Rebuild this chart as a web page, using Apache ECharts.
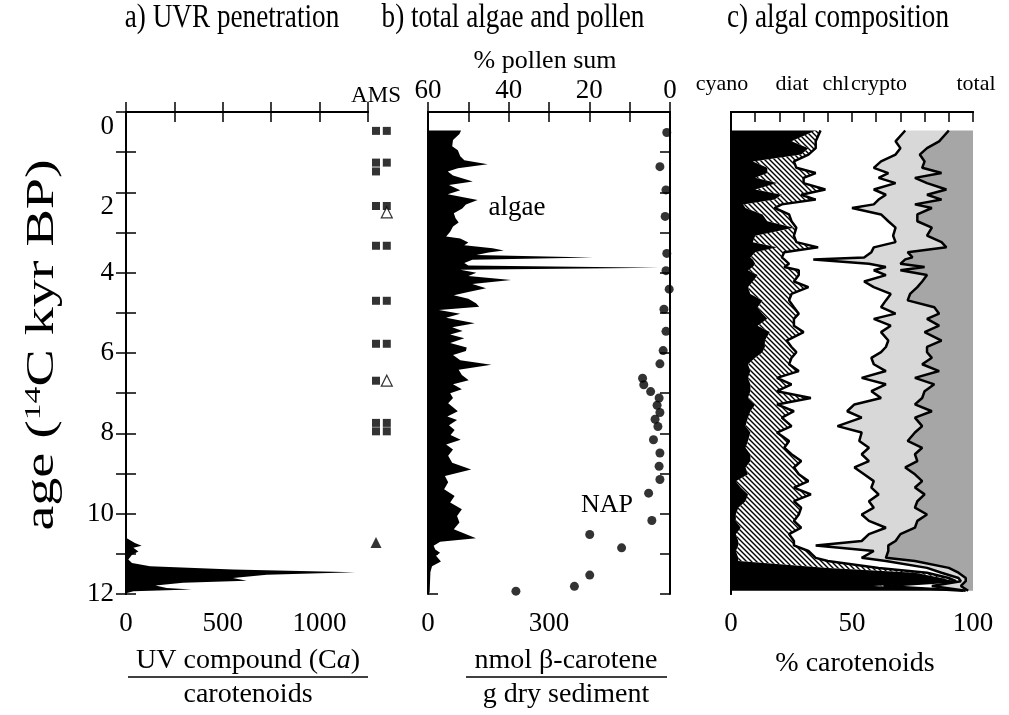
<!DOCTYPE html>
<html>
<head>
<meta charset="utf-8">
<style>
  html, body { margin: 0; padding: 0; background: #fff; }
  #chart { width: 1009px; height: 715px; }
</style>
<script src="https://cdn.jsdelivr.net/npm/echarts/dist/echarts.min.js"></script>
</head>
<body>
<div id="chart"></div>
<script>
// a) UV compound, per kyr BP
var uvAge = [0.4, 10.6, 10.73, 10.8, 10.85, 10.94, 11.02, 11.14, 11.23, 11.31, 11.39, 11.46, 11.52, 11.6, 11.67, 11.72, 11.79, 11.85, 11.89, 11.93, 11.98];
var uvValue = [0, 0, 46, 81, 38, 64, 31, 12, 31, 124, 553, 1183, 727, 553, 623, 295, 152, 210, 339, 38, 0];

// AMS dates (col 0 = left, 1 = right)
var amsAge = [0.47, 0.47, 1.26, 1.26, 1.48, 2.34, 2.34, 3.33, 3.33, 4.70, 4.70, 5.77, 5.77, 6.69, 7.74, 7.74, 7.95, 7.95, 2.5, 6.69, 10.72];
var amsCol = [0, 1, 0, 1, 0, 0, 1, 0, 1, 0, 1, 0, 1, 0, 0, 1, 0, 1, 1, 1, 0];
var amsKind = ["sq", "sq", "sq", "sq", "sq", "sq", "sq", "sq", "sq", "sq", "sq", "sq", "sq", "sq", "sq", "sq", "sq", "sq", "open", "open", "tri"];

// b) total algae (nmol beta-carotene / g dry sediment)
var algaeAge = [0.46, 0.55, 0.7, 0.85, 0.95, 1.1, 1.2, 1.3, 1.4, 1.48, 1.58, 1.73, 1.82, 1.95, 2.05, 2.19, 2.3, 2.4, 2.52, 2.64, 2.75, 2.85, 2.98, 3.1, 3.15, 3.25, 3.32, 3.39, 3.45, 3.5, 3.56, 3.62, 3.68, 3.76, 3.82, 3.88, 3.93, 4.0, 4.08, 4.18, 4.28, 4.39, 4.48, 4.56, 4.65, 4.76, 4.85, 4.93, 5.02, 5.12, 5.26, 5.36, 5.45, 5.54, 5.63, 5.75, 5.86, 5.95, 6.05, 6.18, 6.29, 6.42, 6.55, 6.68, 6.78, 6.9, 7.0, 7.12, 7.25, 7.45, 7.58, 7.67, 7.8, 7.92, 8.04, 8.16, 8.28, 8.4, 8.56, 8.73, 8.9, 9.06, 9.22, 9.39, 9.56, 9.72, 9.89, 10.06, 10.22, 10.39, 10.61, 10.7, 10.8, 10.89, 10.97, 11.05, 11.19, 11.31, 11.45, 11.7, 11.97];
var algaeValue = [82, 78, 62, 60, 74, 80, 90, 148, 74, 49, 62, 111, 52, 80, 49, 123, 94, 85, 64, 68, 76, 62, 55, 45, 80, 100, 90, 160, 188, 150, 120, 409, 110, 90, 100, 573, 80, 120, 100, 206, 110, 144, 100, 64, 100, 119, 127, 27, 80, 45, 116, 60, 86, 55, 90, 55, 96, 94, 62, 80, 157, 76, 84, 101, 62, 84, 55, 62, 50, 74, 48, 72, 52, 66, 56, 81, 45, 62, 50, 60, 107, 42, 50, 40, 66, 55, 84, 72, 78, 64, 119, 30, 14, 18, 30, 20, 32, 10, 6, 5, 4];

// b) non-arboreal pollen, % pollen sum
var napAge = [0.51, 1.36, 1.94, 2.6, 3.52, 3.95, 4.41, 4.91, 5.46, 5.94, 6.27, 6.63, 6.79, 6.96, 7.12, 7.3, 7.48, 7.65, 7.83, 8.16, 8.49, 8.82, 9.15, 9.49, 10.17, 10.52, 10.85, 11.53, 11.81, 11.93];
var napPct = [0.8, 2.5, 1.0, 1.2, 0.8, 1.0, 0.2, 1.5, 1.0, 1.7, 2.5, 6.8, 6.5, 4.8, 2.7, 3.2, 2.5, 3.7, 3.0, 4.1, 2.5, 2.7, 2.5, 5.3, 4.5, 19.9, 12.0, 19.9, 23.7, 38.2];

// c) algal composition, % carotenoids (remainder up to 100 is the last band)
var compAge = [0.46, 0.73, 0.9, 1.06, 1.23, 1.39, 1.52, 1.64, 1.77, 1.93, 2.06, 2.18, 2.3, 2.39, 2.55, 2.72, 2.88, 3.08, 3.24, 3.37, 3.49, 3.62, 3.67, 3.78, 3.86, 3.94, 4.06, 4.22, 4.36, 4.53, 4.69, 4.86, 5.02, 5.15, 5.32, 5.48, 5.69, 5.85, 5.98, 6.12, 6.28, 6.45, 6.62, 6.78, 6.95, 7.12, 7.28, 7.45, 7.61, 7.82, 7.98, 8.19, 8.36, 8.52, 8.69, 8.85, 9.02, 9.19, 9.35, 9.52, 9.69, 9.85, 10.02, 10.18, 10.35, 10.51, 10.68, 10.79, 10.93, 11.1, 11.18, 11.35, 11.47, 11.6, 11.68, 11.8, 11.92];
var cyanoPct = [35, 25, 32, 29, 9, 15, 15, 10, 19, 10, 21, 18, 5, 6, 13, 15, 26, 10, 9, 19, 10, 8, 9, 10, 9, 7, 11, 9, 7, 8, 13, 11, 13, 15, 11, 16, 14, 14, 13, 10, 7, 8, 7, 8, 8, 7, 10, 8, 7, 6, 8, 7, 6, 8, 8, 6, 7, 2, 4, 7, 6, 3, 2, 2, 4, 2, 3, 3, 2, 3, 3, 40, 76, 87, 92, 59, 95];
var diatPct = [2, 10, 3, 3, 17, 12, 20, 20, 11, 29, 8, 17, 16, 12, 11, 10, 1, 16, 18, 17, 12, 13, 13, 14, 13, 21, 17, 17, 25, 17, 11, 15, 15, 11, 15, 14, 9, 11, 14, 15, 17, 20, 12, 17, 11, 26, 9, 18, 14, 19, 11, 17, 16, 17, 21, 20, 21, 30, 22, 26, 20, 26, 26, 24, 25, 22, 23, 23, 30, 32, 37, 21, 5, 3, 1, 4, 1];
var chlPct = [35, 33, 35, 36, 36, 32, 30, 31, 38, 20, 35, 26, 38, 32, 38, 40, 41, 41, 41, 23, 36, 34, 12, 33, 42, 31, 36, 29, 27, 41, 40, 36, 40, 33, 40, 32, 42, 39, 35, 33, 35, 36, 35, 39, 39, 29, 32, 22, 33, 19, 35, 29, 35, 29, 28, 25, 27, 27, 32, 28, 31, 30, 26, 31, 35, 33, 28, 9, 27, 19, 24, 20, 6, 4, 2, 20, 1];
var cryptoPct = [18, 18, 11, 10, 18, 20, 22, 15, 13, 30, 17, 26, 17, 33, 15, 12, 15, 14, 19, 30, 15, 20, 38, 13, 16, 11, 17, 24, 18, 8, 9, 22, 18, 22, 20, 18, 22, 17, 19, 25, 20, 22, 22, 20, 22, 17, 25, 35, 22, 35, 22, 20, 22, 22, 20, 21, 21, 20, 18, 19, 20, 17, 27, 20, 12, 13, 14, 30, 6, 10, 12, 9, 7, 3, 2, 12, 1];

var FONT = "'Liberation Serif', 'Times New Roman', serif";

function hatchImage() {
  var c = document.createElement("canvas");
  c.width = 5;
  c.height = 5;
  var g = c.getContext("2d");
  g.fillStyle = "#fff";
  g.fillRect(0, 0, 5, 5);
  g.strokeStyle = "#000";
  g.lineWidth = 1.4;
  g.beginPath();
  g.moveTo(-1, -1); g.lineTo(6, 6);
  g.moveTo(-1, 4); g.lineTo(1, 6);
  g.moveTo(4, -1); g.lineTo(6, 1);
  g.stroke();
  return c;
}

// stacked boundaries for panel c
var b1 = [], b2 = [], b3 = [], b4 = [], full = [], zeroC = [];
for (var i = 0; i < compAge.length; i++) {
  b1.push(cyanoPct[i]);
  b2.push(b1[i] + diatPct[i]);
  b3.push(b2[i] + chlPct[i]);
  b4.push(b3[i] + cryptoPct[i]);
  full.push(100);
  zeroC.push(0);
}
var zeroUv = uvAge.map(function () { return 0; });
var zeroAlgae = algaeAge.map(function () { return 0; });

function areaSeries(xIdx, yIdx, ages, lower, upper, fill) {
  return {
    type: "custom",
    xAxisIndex: xIdx,
    yAxisIndex: yIdx,
    silent: true,
    clip: true,
    data: ages.map(function (a, k) { return [upper[k], a]; }),
    encode: { x: 0, y: 1 },
    renderItem: function (params, api) {
      if (params.dataIndex !== 0) return null;
      var pts = [];
      for (var k = 0; k < ages.length; k++) pts.push(api.coord([upper[k], ages[k]]));
      for (var j = ages.length - 1; j >= 0; j--) pts.push(api.coord([lower[j], ages[j]]));
      return { type: "polygon", shape: { points: pts }, style: { fill: fill } };
    }
  };
}

function edgeLine(xIdx, yIdx, ages, vals) {
  return {
    type: "line",
    xAxisIndex: xIdx,
    yAxisIndex: yIdx,
    symbol: "none",
    silent: true,
    lineStyle: { color: "#000", width: 2.5 },
    data: ages.map(function (a, k) { return [vals[k], a]; }),
    z: 3
  };
}

var numLabel = { color: "#000", fontFamily: FONT, fontSize: 27 };
var tick = { show: true, inside: true, length: 10, lineStyle: { color: "#000", width: 1.5 } };
var line = { show: true, lineStyle: { color: "#000", width: 2 } };

function yAx(grid, pos, opts) {
  var ax = {
    type: "value", gridIndex: grid, position: pos, min: 0, max: 12, interval: 1, inverse: true,
    axisLine: line, axisTick: tick, splitLine: { show: false }, axisLabel: { show: false }, z: 10
  };
  return Object.assign(ax, opts || {});
}

function xAx(grid, pos, min, max, interval, opts) {
  var ax = {
    type: "value", gridIndex: grid, position: pos, min: min, max: max, interval: interval,
    axisLine: line, axisTick: tick, splitLine: { show: false }, axisLabel: { show: false }, z: 10
  };
  return Object.assign(ax, opts || {});
}

function only(list) {
  return function (v) { return list.indexOf(v) >= 0 ? String(v) : ""; };
}

var amsData = amsAge.map(function (a, k) {
  var item = { value: [amsCol[k] === 0 ? 0.5 : 1.4, a] };
  if (amsKind[k] === "sq") {
    item.symbol = "rect";
    item.symbolSize = 8;
    item.itemStyle = { color: "#000" };
  } else if (amsKind[k] === "tri") {
    item.symbol = "triangle";
    item.symbolSize = 11;
    item.itemStyle = { color: "#000" };
  } else {
    item.symbol = "triangle";
    item.symbolSize = 11;
    item.itemStyle = { color: "#fff", borderColor: "#000", borderWidth: 1.2 };
  }
  return item;
});

var chartDom = document.getElementById("chart");
var myChart = echarts.init(chartDom);
var hatch = { image: hatchImage(), repeat: "repeat" };

var option = {
  backgroundColor: "#fff",
  animation: false,
  grid: [
    { left: 126, top: 112, width: 242, height: 482 },
    { left: 428, top: 112, width: 242, height: 482 },
    { left: 731, top: 112, width: 242, height: 482 },
    { left: 370, top: 112, width: 24, height: 482 }
  ],
  xAxis: [
    xAx(0, "bottom", 0, 1250, 250, { axisLabel: Object.assign({ show: true, margin: 16, formatter: only([0, 500, 1000]) }, numLabel) }),
    xAx(0, "top", 0, 1250, 250),
    xAx(1, "bottom", 0, 600, 100, { axisLabel: Object.assign({ show: true, margin: 16, formatter: only([0, 300]) }, numLabel) }),
    xAx(1, "top", 0, 60, 10, { inverse: true, axisLabel: Object.assign({ show: true, margin: 8, formatter: only([0, 20, 40, 60]) }, numLabel) }),
    xAx(2, "bottom", 0, 100, 50, { axisTick: { show: false }, axisLabel: Object.assign({ show: true, margin: 16 }, numLabel) }),
    xAx(2, "top", 0, 100, 10),
    { type: "value", gridIndex: 3, min: 0, max: 2, show: false }
  ],
  yAxis: [
    yAx(0, "left", {
      axisLabel: Object.assign({
        show: true, margin: 12,
        formatter: function (v) {
          if (v % 2 !== 0) return "";
          return v <= 2 ? "{lo|" + v + "}" : String(v);
        },
        rich: { lo: { fontFamily: FONT, fontSize: 27, color: "#000", padding: [30, 0, 0, 0] } }
      }, numLabel)
    }),
    yAx(0, "right"),
    yAx(1, "left"),
    yAx(1, "right"),
    yAx(2, "left", { axisTick: { show: false } }),
    yAx(2, "right", { axisTick: { show: false } }),
    { type: "value", gridIndex: 3, min: 0, max: 12, inverse: true, show: false }
  ],
  series: [
    areaSeries(0, 0, uvAge, zeroUv, uvValue, "#000"),
    areaSeries(2, 2, algaeAge, zeroAlgae, algaeValue, "#000"),
    {
      type: "scatter", xAxisIndex: 3, yAxisIndex: 2, symbol: "circle", symbolSize: 9,
      itemStyle: { color: "#000" }, silent: true, clip: false,
      data: napAge.map(function (a, k) { return [napPct[k], a]; })
    },
    areaSeries(4, 4, compAge, b4, full, "#a6a6a6"),
    areaSeries(4, 4, compAge, b3, b4, "#d8d8d8"),
    areaSeries(4, 4, compAge, b2, b3, "#fff"),
    areaSeries(4, 4, compAge, b1, b2, hatch),
    areaSeries(4, 4, compAge, zeroC, b1, "#000"),
    edgeLine(4, 4, compAge, b2),
    edgeLine(4, 4, compAge, b3),
    edgeLine(4, 4, compAge, b4),
    {
      type: "scatter", xAxisIndex: 6, yAxisIndex: 6, silent: true, clip: false, data: amsData
    }
  ],
  graphic: [
    { type: "text", x: 232, y: 18, scaleX: 0.8, style: { text: "a) UVR penetration", fontFamily: FONT, fontSize: 34, fill: "#000", align: "center", verticalAlign: "middle" } },
    { type: "text", x: 513, y: 18, scaleX: 0.8, style: { text: "b) total algae and pollen", fontFamily: FONT, fontSize: 34, fill: "#000", align: "center", verticalAlign: "middle" } },
    { type: "text", x: 838, y: 18, scaleX: 0.8, style: { text: "c) algal composition", fontFamily: FONT, fontSize: 34, fill: "#000", align: "center", verticalAlign: "middle" } },
    { type: "text", x: 545, y: 61, style: { text: "% pollen sum", fontFamily: FONT, fontSize: 26, fill: "#000", align: "center", verticalAlign: "middle" } },
    { type: "text", x: 376, y: 96, style: { text: "AMS", fontFamily: FONT, fontSize: 23, fill: "#000", align: "center", verticalAlign: "middle" } },
    { type: "text", x: 722, y: 84, style: { text: "cyano", fontFamily: FONT, fontSize: 22, fill: "#000", align: "center", verticalAlign: "middle" } },
    { type: "text", x: 792, y: 84, style: { text: "diat", fontFamily: FONT, fontSize: 22, fill: "#000", align: "center", verticalAlign: "middle" } },
    { type: "text", x: 836, y: 84, style: { text: "chl", fontFamily: FONT, fontSize: 22, fill: "#000", align: "center", verticalAlign: "middle" } },
    { type: "text", x: 879, y: 84, style: { text: "crypto", fontFamily: FONT, fontSize: 22, fill: "#000", align: "center", verticalAlign: "middle" } },
    { type: "text", x: 976, y: 84, style: { text: "total", fontFamily: FONT, fontSize: 22, fill: "#000", align: "center", verticalAlign: "middle" } },
    { type: "text", x: 517, y: 208, z: 20, style: { text: "algae", fontFamily: FONT, fontSize: 27, fill: "#000", align: "center", verticalAlign: "middle" } },
    { type: "text", x: 607, y: 505, z: 20, style: { text: "NAP", fontFamily: FONT, fontSize: 26, fill: "#000", align: "center", verticalAlign: "middle" } },
    {
      type: "text", x: 42, y: 345, rotation: Math.PI / 2, scaleX: 1.4,
      style: {
        text: "age ({s|14}C kyr BP)", fontFamily: FONT, fontSize: 40, fill: "#000", align: "center", verticalAlign: "middle",
        rich: { s: { fontFamily: FONT, fontSize: 24, fill: "#000", padding: [0, 0, 16, 0] } }
      }
    },
    {
      type: "text", x: 248, y: 661,
      style: {
        text: "UV compound (C{i|a})", fontFamily: FONT, fontSize: 28, fill: "#000", align: "center", verticalAlign: "middle",
        rich: { i: { fontFamily: FONT, fontSize: 28, fontStyle: "italic", fill: "#000" } }
      }
    },
    { type: "line", shape: { x1: 128, y1: 677, x2: 368, y2: 677 }, style: { stroke: "#000", lineWidth: 1.5 } },
    { type: "text", x: 248, y: 695, style: { text: "carotenoids", fontFamily: FONT, fontSize: 28, fill: "#000", align: "center", verticalAlign: "middle" } },
    { type: "text", x: 566, y: 661, style: { text: "nmol β-carotene", fontFamily: FONT, fontSize: 28, fill: "#000", align: "center", verticalAlign: "middle" } },
    { type: "line", shape: { x1: 466, y1: 677, x2: 667, y2: 677 }, style: { stroke: "#000", lineWidth: 1.5 } },
    { type: "text", x: 566, y: 695, style: { text: "g dry sediment", fontFamily: FONT, fontSize: 28, fill: "#000", align: "center", verticalAlign: "middle" } },
    { type: "text", x: 855, y: 664, style: { text: "% carotenoids", fontFamily: FONT, fontSize: 28, fill: "#000", align: "center", verticalAlign: "middle" } }
  ]
};

option && myChart.setOption(option);
</script>
</body>
</html>
